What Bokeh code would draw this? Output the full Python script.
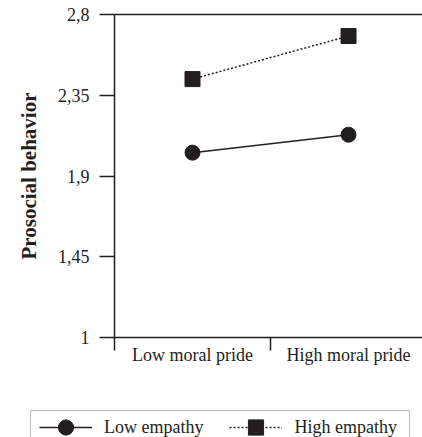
from bokeh.plotting import figure
from bokeh.models import (Range1d, FixedTicker, LinearAxis, Legend, LegendItem, BoxAnnotation)
from bokeh.embed import file_html
from bokeh.resources import INLINE

# ---- data ----
categories = ["Low moral pride", "High moral pride"]
low_empathy = [2.03, 2.13]
high_empathy = [2.44, 2.68]
y_ticks = [1, 1.45, 1.9, 2.35, 2.8]
y_tick_labels = ["1", "1,45", "1,9", "2,35", "2,8"]
series_names = ["Low empathy", "High empathy"]

FONT = "Liberation Serif"
INK = "#231f20"

x_pos = [i + 0.5 for i in range(len(categories))]
bounds = [float(i) for i in range(len(categories))]

p = figure(width=422, height=380, output_backend="svg", toolbar_location=None,
           x_range=Range1d(0, 1.974), y_range=Range1d(1, 2.8),
           min_border_left=114, min_border_right=0, min_border_top=14,
           min_border_bottom=43, x_axis_type=None, y_axis_type=None)
p.outline_line_color = None
p.xgrid.visible = False
p.ygrid.visible = False
p.background_fill_color = "white"
p.border_fill_color = "white"

# y axis
yax = LinearAxis(ticker=FixedTicker(ticks=y_ticks, minor_ticks=[]),
                 major_label_overrides={t: l for t, l in zip(y_ticks, y_tick_labels)})
yax.axis_label = "Prosocial behavior"
yax.axis_label_text_font = FONT
yax.axis_label_text_font_style = "bold"
yax.axis_label_text_font_size = "21px"
yax.axis_label_text_color = INK
yax.axis_label_standoff = 14
yax.major_label_text_font = FONT
yax.major_label_text_font_size = "18px"
yax.major_label_text_color = INK
yax.major_label_standoff = 10
yax.major_tick_out = 15
yax.major_tick_in = 0
yax.major_tick_line_color = INK
yax.major_tick_line_width = 1.5
yax.minor_tick_line_color = None
yax.axis_line_color = INK
yax.axis_line_width = 1.5
p.add_layout(yax, "left")

# x axis (labels at category centres, ticks at boundaries)
xax = LinearAxis(ticker=FixedTicker(ticks=x_pos, minor_ticks=bounds),
                 major_label_overrides={x: c for x, c in zip(x_pos, categories)})
xax.major_label_text_font = FONT
xax.major_label_text_font_size = "18px"
xax.major_label_text_color = INK
xax.major_label_standoff = -6
xax.major_tick_out = 0
xax.major_tick_in = 0
xax.major_tick_line_color = None
xax.minor_tick_out = 13
xax.minor_tick_in = 0
xax.minor_tick_line_color = INK
xax.minor_tick_line_width = 1.5
xax.axis_line_color = INK
xax.axis_line_width = 1.5
p.add_layout(xax, "below")

# top border line
tax = LinearAxis(ticker=FixedTicker(ticks=[], minor_ticks=[]))
tax.major_label_text_font_size = "0px"
tax.major_tick_line_color = None
tax.minor_tick_line_color = None
tax.axis_line_color = INK
tax.axis_line_width = 1.5
p.add_layout(tax, "above")

# series
p.line(x_pos, low_empathy, line_color=INK, line_width=1.5)
p.scatter(x_pos, low_empathy, marker="circle", size=15, fill_color=INK, line_color=INK)
p.line(x_pos, high_empathy, line_color=INK, line_width=1.5, line_dash="2 2")
p.scatter(x_pos, high_empathy, marker="square", size=15, fill_color=INK, line_color=INK)

# legend strip below the chart (y measured downward in pixels of this strip)
q = figure(width=422, height=57, output_backend="svg", toolbar_location=None,
           x_range=Range1d(0, 422), y_range=Range1d(57, 0),
           min_border_left=0, min_border_right=0, min_border_top=0, min_border_bottom=0,
           x_axis_type=None, y_axis_type=None)
q.outline_line_color = None
q.xgrid.visible = False
q.ygrid.visible = False
q.border_fill_color = "white"
kl1 = q.line(x_pos, low_empathy, line_color=INK, line_width=1.5, visible=False)
ks1 = q.scatter(x_pos, low_empathy, marker="circle", size=15, fill_color=INK, line_color=INK, visible=False)
kl2 = q.line(x_pos, high_empathy, line_color=INK, line_width=1.5, line_dash="2 2", visible=False)
ks2 = q.scatter(x_pos, high_empathy, marker="square", size=15, fill_color=INK, line_color=INK, visible=False)

q.add_layout(BoxAnnotation(left=30, right=409, top=30, bottom=80,
                           fill_alpha=0, line_color=INK, line_width=1))

legend = Legend(items=[LegendItem(label=series_names[0], renderers=[kl1, ks1]),
                       LegendItem(label=series_names[1], renderers=[kl2, ks2])],
                location=(39, -9), orientation="horizontal",
                padding=9, spacing=26, label_standoff=12, margin=0,
                glyph_width=53, glyph_height=38, label_height=20,
                label_text_font=FONT, label_text_font_size="18px", label_text_color=INK,
                border_line_color=None, background_fill_alpha=0)
q.add_layout(legend, "center")

open("out.html", "w").write(file_html([p, q], INLINE))
